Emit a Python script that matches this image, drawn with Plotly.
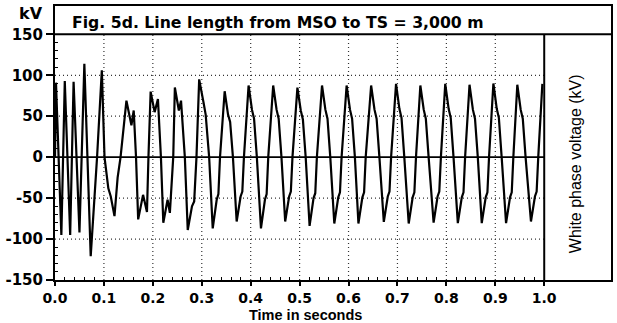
import plotly.graph_objects as go

# ---- data (time in s, white phase voltage in kV) ----
time_s = [
    0.000, 0.002, 0.013, 0.020, 0.031, 0.038, 0.050, 0.060, 0.073, 0.086,
    0.0957, 0.1012, 0.109, 0.114, 0.1216, 0.128, 0.134, 0.146, 0.1562, 0.1609,
    0.1656, 0.170, 0.180, 0.188, 0.191, 0.1955, 0.2037, 0.2104, 0.2165, 0.2214,
    0.2301, 0.2348, 0.2417, 0.245, 0.2532, 0.2576, 0.2654, 0.2713, 0.280, 0.2845,
    0.2892, 0.2947, 0.3035, 0.308, 0.3151,
    0.3224, 0.3305, 0.3340, 0.3373, 0.3468, 0.3537, 0.3580, 0.3637,
    0.3713, 0.3794, 0.3829, 0.3862, 0.3957, 0.4026, 0.4069, 0.4126,
    0.4210, 0.4291, 0.4326, 0.4359, 0.4460, 0.4529, 0.4572, 0.4629,
    0.4705, 0.4786, 0.4821, 0.4854, 0.4955, 0.5024, 0.5067, 0.5124,
    0.5204, 0.5285, 0.5320, 0.5353, 0.5458, 0.5527, 0.5570, 0.5627,
    0.5709, 0.5790, 0.5825, 0.5858, 0.5961, 0.6030, 0.6073, 0.6130,
    0.6202, 0.6283, 0.6318, 0.6351, 0.6462, 0.6531, 0.6574, 0.6631,
    0.6721, 0.6802, 0.6837, 0.6870, 0.6971, 0.7040, 0.7083, 0.7140,
    0.7230, 0.7311, 0.7346, 0.7379, 0.7468, 0.7537, 0.7580, 0.7637,
    0.7739, 0.7820, 0.7855, 0.7888, 0.7977, 0.8046, 0.8089, 0.8146,
    0.8234, 0.8315, 0.8350, 0.8383, 0.8473, 0.8542, 0.8585, 0.8642,
    0.8723, 0.8804, 0.8839, 0.8872, 0.8961, 0.9030, 0.9073, 0.9130,
    0.9220, 0.9301, 0.9336, 0.9369, 0.9450, 0.9519, 0.9562, 0.9619,
    0.9729, 0.9810, 0.9845, 0.9878, 0.9962,
]
voltage_kv = [
    0, 91, -95, 93, -95, 92, -92, 114, -121, 0,
    106, 0, -38, -48, -72, -25, 0, 69, 39, 57,
    0, -76, -46, -67, 0, 80, 55, 71, 0, -80,
    -52, -68, 0, 85, 57, 69, 0, -89, -60, -54,
    0, 95, 67, 52, 0,
    -87, -52, -45, 0, 80.5, 52, 43, 0,
    -78.6, -48, -42, 0, 87.5, 58, 47, 0,
    -87, -52, -45, 0, 87.5, 58, 47, 0,
    -78.6, -48, -42, 0, 85, 57, 46, 0,
    -84, -50, -44, 0, 87.5, 58, 47, 0,
    -81, -49, -43, 0, 87.5, 58, 47, 0,
    -81, -49, -43, 0, 87.5, 58, 47, 0,
    -79, -48, -42, 0, 89.5, 59, 48, 0,
    -81, -49, -43, 0, 87.5, 58, 47, 0,
    -80, -48, -42, 0, 89.5, 59, 48, 0,
    -80.6, -49, -43, 0, 88.5, 58, 47, 0,
    -80.6, -49, -43, 0, 90, 59, 48, 0,
    -80.6, -49, -43, 0, 88.5, 58, 47, 0,
    -78.6, -48, -42, 0, 89.5,
]

x_ticks = [0.0, 0.1, 0.2, 0.3, 0.4, 0.5, 0.6, 0.7, 0.8, 0.9, 1.0]
x_tick_labels = ["0.0", "0.1", "0.2", "0.3", "0.4", "0.5", "0.6", "0.7", "0.8", "0.9", "1.0"]
y_ticks = [-150, -100, -50, 0, 50, 100, 150]
y_tick_labels = ["-150", "-100", "-50", "0", "50", "100", "150"]
x_grid = [0.1, 0.2, 0.3, 0.4, 0.5, 0.6, 0.7, 0.8, 0.9]
y_grid = [-100, -50, 50, 100]

title_text = "Fig. 5d. Line length from MSO to TS = 3,000 m"
x_title = "Time in seconds"
right_label = "White phase voltage (kV)"
unit_label = "kV"

X_MAX = 1.1365
Y_MIN, Y_MAX = -150, 184.6
BOLD = dict(family="DejaVu Sans", size=15, color="black", weight="bold")

fig = go.Figure()
fig.add_trace(go.Scatter(x=time_s, y=voltage_kv, mode="lines",
                         line=dict(color="black", width=2.2), hoverinfo="skip"))

shapes = []
for gx in x_grid:
    shapes.append(dict(type="line", xref="x", yref="y", x0=gx, x1=gx, y0=-150, y1=150,
                       line=dict(color="#333", width=1.2, dash="1px,3px"), layer="below"))
for gy in y_grid:
    shapes.append(dict(type="line", xref="x", yref="y", x0=0, x1=1.0, y0=gy, y1=gy,
                       line=dict(color="#333", width=1.2, dash="1px,3px"), layer="below"))
# zero line, end line at 1.0 s, title box separator
shapes.append(dict(type="line", xref="x", yref="y", x0=0, x1=1.0, y0=0, y1=0,
                   line=dict(color="black", width=1.6)))
shapes.append(dict(type="line", xref="x", yref="y", x0=1.0, x1=1.0, y0=-150, y1=150,
                   line=dict(color="black", width=2)))
shapes.append(dict(type="line", xref="x", yref="y", x0=0, x1=X_MAX, y0=150, y1=150,
                   line=dict(color="black", width=2)))

annotations = [
    dict(text=title_text, xref="paper", yref="y", x=0.027, y=164.6, xanchor="left",
         yanchor="middle", showarrow=False, font=dict(BOLD, size=15.7)),
    dict(text=unit_label, xref="paper", yref="y", x=-0.044, y=175.5, xanchor="center",
         yanchor="middle", showarrow=False, font=dict(BOLD, size=16)),
    dict(text=right_label, xref="x", yref="y", x=1.063, y=-8.5, xanchor="center",
         yanchor="middle", textangle=-90, showarrow=False,
         font=dict(family="Liberation Sans", size=16, color="black")),
    dict(text=x_title, xref="paper", yref="paper", x=0.4507, y=-0.128, xanchor="center",
         yanchor="middle", showarrow=False,
         font=dict(family="Liberation Sans", size=14.5, color="black", weight="bold")),
]

fig.update_layout(
    width=617, height=323,
    margin=dict(l=55, r=4, t=5, b=43),
    paper_bgcolor="white", plot_bgcolor="white",
    showlegend=False,
    shapes=shapes, annotations=annotations,
    xaxis=dict(range=[0, X_MAX], tickvals=x_ticks, ticktext=x_tick_labels,
               ticks="outside", ticklen=4, tickwidth=1.5, tickcolor="black",
               showline=True, linewidth=2, linecolor="black", mirror=True,
               showgrid=False, zeroline=False, tickfont=dict(BOLD, size=14),
               minor=dict(ticks="inside", ticklen=3, tickcolor="black", tickwidth=1,
                          tickvals=[round(i * 0.02, 2) for i in range(1, 50) if i % 5]),
               fixedrange=True),
    yaxis=dict(range=[Y_MIN, Y_MAX], tickvals=y_ticks, ticktext=y_tick_labels,
               ticks="outside", ticklen=7, tickwidth=1.5, tickcolor="black",
               showline=True, linewidth=2, linecolor="black", mirror=True,
               showgrid=False, zeroline=False, tickfont=BOLD,
               minor=dict(ticks="inside", ticklen=3, tickcolor="black", tickwidth=1,
                          tickvals=[v for v in range(-140, 150, 10) if v % 50]),
               fixedrange=True),
)

fig.write_html("out.html", config={"displayModeBar": False},
               post_script="document.body.style.margin='0';document.body.style.padding='0';"
                           "document.body.style.overflow='hidden';")
